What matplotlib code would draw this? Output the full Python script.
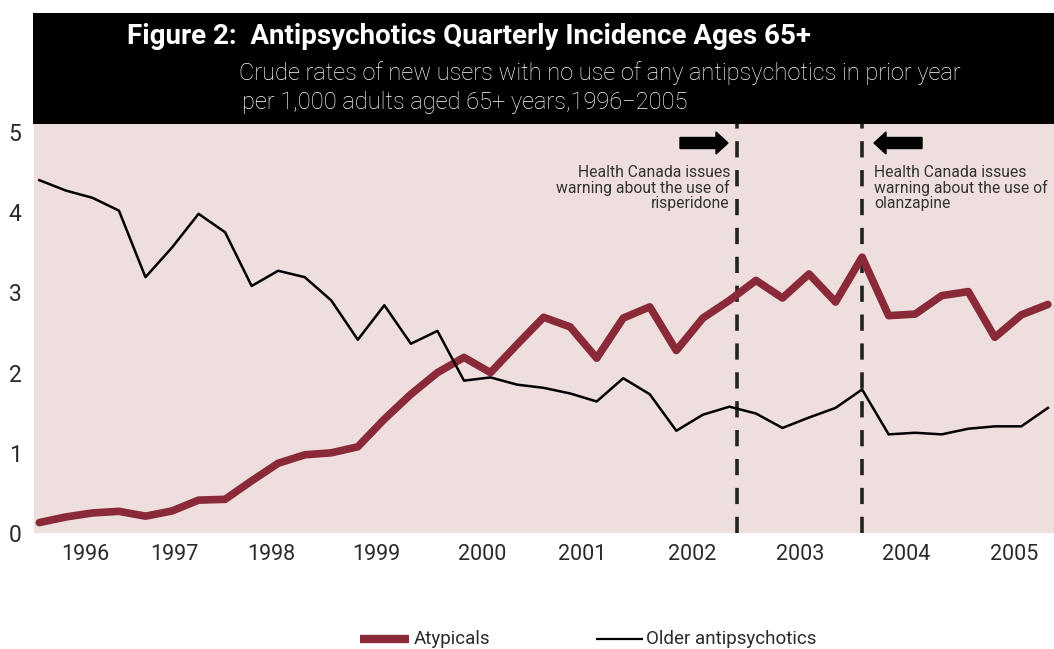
import matplotlib
matplotlib.use("Agg")
import matplotlib.pyplot as plt
from matplotlib.patches import Rectangle, FancyArrow
from matplotlib.lines import Line2D

plt.rcParams['font.family'] = ['Roboto', 'DejaVu Sans']

# Quarterly data 1996 Q1 ... 2005 Q3 (39 quarters)
atypicals = [0.13, 0.20, 0.25, 0.27, 0.21, 0.275, 0.41, 0.42, 0.65, 0.87,
             0.975, 1.0, 1.075, 1.42, 1.73, 2.0, 2.19, 2.0, 2.35, 2.69,
             2.57, 2.18, 2.68, 2.82, 2.275, 2.68, 2.9, 3.15, 2.93, 3.23,
             2.88, 3.44, 2.71, 2.73, 2.96, 3.01, 2.44, 2.72, 2.85]
older = [4.40, 4.27, 4.18, 4.02, 3.19, 3.56, 3.98, 3.75, 3.08, 3.27,
         3.19, 2.90, 2.41, 2.84, 2.36, 2.52, 1.90, 1.94, 1.85, 1.81,
         1.74, 1.64, 1.93, 1.73, 1.275, 1.475, 1.575, 1.49, 1.31, 1.44,
         1.56, 1.79, 1.23, 1.25, 1.23, 1.30, 1.33, 1.33, 1.56]
year_labels = ['1996', '1997', '1998', '1999', '2000', '2001', '2002', '2003', '2004', '2005']
year_pos = [1.74, 5.08, 8.73, 12.69, 16.68, 20.45, 24.59, 28.68, 32.66, 36.73]
warning_pos = [26.28, 31.0]
yticks = [0, 1, 2, 3, 4, 5]

RED = '#8A2A38'
TXT = '#2a2a2a'
W, H = 1054, 649
fig = plt.figure(figsize=(W / 100, H / 100), dpi=100)
fig.patch.set_facecolor('white')

def fx(px):
    return px / W

def fy(py):
    return (H - py) / H

ax = fig.add_axes([fx(34), fy(533), 1020 / W, (533 - 124) / H])
ax.set_facecolor('#EEDFDE')
for s in ax.spines.values():
    s.set_visible(False)

x = list(range(len(atypicals)))
ax.plot(x, atypicals, color=RED, lw=5.5, solid_capstyle='round',
        solid_joinstyle='round', zorder=3)
ax.plot(x, older, color='black', lw=1.8, zorder=3)

for wp in warning_pos:
    ax.axvline(wp, color='#222222', lw=2.6, linestyle=(0, (4.5, 3.5)), zorder=2)

ax.set_xlim(-0.2, 38.23)
ax.set_ylim(0, 5.1)
ax.set_yticks(yticks)
ax.set_yticklabels([str(v) for v in yticks], fontsize=16.5, color=TXT)
ax.set_xticks(year_pos)
ax.set_xticklabels(year_labels, fontsize=15.5, color=TXT)
ax.tick_params(axis='both', length=0)
ax.tick_params(axis='y', pad=9)
ax.tick_params(axis='x', pad=8)

# black title band
fig.patches.append(Rectangle((fx(33), fy(124)), (W - 33) / W, (124 - 13) / H,
                             transform=fig.transFigure, facecolor='black',
                             edgecolor='none', zorder=0))
fig.text(fx(127), fy(37), 'Figure 2:  Antipsychotics Quarterly Incidence Ages 65+',
         color='white', fontsize=20, fontweight='bold', va='center', ha='left')
fig.text(fx(239), fy(73),
         'Crude rates of new users with no use of any antipsychotics in prior year',
         color='white', fontsize=17, fontweight='light', va='center', ha='left')
fig.text(fx(242), fy(102), 'per 1,000 adults aged 65+ years,1996\u22122005',
         color='white', fontsize=17, fontweight='light', va='center', ha='left')

# arrows
fig.patches.append(FancyArrow(fx(680), fy(143), 36 / W, 0, width=11 / H,
                              head_width=22 / H, head_length=12 / W,
                              transform=fig.transFigure, color='black'))
fig.patches.append(FancyArrow(fx(922), fy(143), -36 / W, 0, width=11 / H,
                              head_width=22 / H, head_length=12 / W,
                              transform=fig.transFigure, color='black'))

fig.text(fx(730), fy(188),
         'Health Canada issues\nwarning about the use of\nrisperidone',
         fontsize=11.3, color='#333333', ha='right', va='center', linespacing=0.98)
fig.text(fx(874), fy(188),
         'Health Canada issues\nwarning about the use of\nolanzapine',
         fontsize=11.3, color='#333333', ha='left', va='center', linespacing=0.98)

# legend (drawn manually)
fig.add_artist(Line2D([fx(360), fx(409)], [fy(639), fy(639)], color=RED, lw=6,
                      solid_capstyle='butt', transform=fig.transFigure))
fig.text(fx(414), fy(639), 'Atypicals', fontsize=13.5, color=TXT,
         ha='left', va='center')
fig.add_artist(Line2D([fx(596), fx(643)], [fy(639), fy(639)], color='black', lw=1.6,
                      solid_capstyle='butt', transform=fig.transFigure))
fig.text(fx(646), fy(639), 'Older antipsychotics', fontsize=13.5, color=TXT,
         ha='left', va='center')

fig.savefig('out.png', dpi=100, facecolor='white')
